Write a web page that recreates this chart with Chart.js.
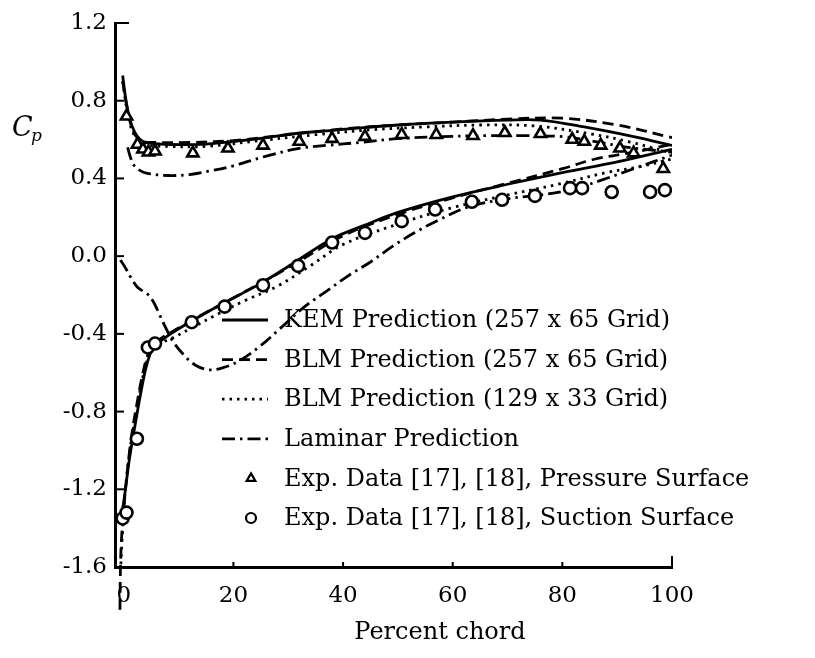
<!DOCTYPE html>
<html>
<head>
<meta charset="utf-8">
<script src="https://cdn.jsdelivr.net/npm/chart.js@4.4.1/dist/chart.umd.min.js"></script>
<style>
  html, body { margin: 0; padding: 0; background: #fff; }
  #wrap { width: 815px; height: 658px; }
</style>
</head>
<body>
<div id="wrap"><canvas id="cp" width="815" height="658"></canvas></div>
<script>
// ── Axis ticks ───────────────────────────────────────────────────────────────
const xTicks = [0, 20, 40, 60, 80, 100];
const yTicks = [1.2, 0.8, 0.4, 0.0, -0.4, -0.8, -1.2, -1.6];

// ── Series: [percent chord, Cp] ─────────────────────────────────────────────
const kemPressure = [[-0.2,0.93],[0.3,0.82],[0.8,0.74],[1.5,0.67],[2.4,0.62],[3.5,0.59],[5,0.58],[8,0.575],[14,0.575],[20,0.59],[26,0.61],[31,0.63],[37,0.645],[43,0.66],[50,0.675],[60,0.69],[70,0.70],[76,0.70],[84,0.665],[93,0.615],[100,0.57]];
const kemSuction = [[-0.7,-1.38],[-0.2,-1.3],[0.3,-1.2],[1,-1.05],[2,-0.88],[3,-0.72],[4,-0.58],[5,-0.49],[6,-0.455],[8,-0.41],[12,-0.34],[18,-0.245],[25,-0.14],[31,-0.035],[38,0.09],[44,0.16],[50,0.225],[60,0.305],[70,0.37],[80,0.43],[90,0.485],[100,0.55]];

const blmPressure = [[-0.2,0.9],[0.5,0.78],[1.5,0.66],[3,0.595],[6,0.585],[12,0.585],[20,0.595],[30,0.625],[40,0.655],[50,0.675],[60,0.69],[70,0.705],[80,0.71],[90,0.675],[100,0.61]];
const blmSuction = [[-0.7,-1.82],[-0.6,-1.6],[-0.4,-1.45],[0,-1.3],[0.6,-1.12],[1.4,-0.93],[2.4,-0.76],[3.5,-0.6],[4.5,-0.5],[6,-0.44],[10,-0.37],[15,-0.29],[20,-0.215],[30,-0.06],[40,0.105],[50,0.215],[60,0.3],[70,0.375],[80,0.45],[86,0.5],[93,0.535],[100,0.575]];

const blm129Pressure = [[-0.2,0.9],[0.8,0.72],[2,0.62],[4,0.575],[8,0.565],[15,0.565],[25,0.595],[35,0.625],[45,0.65],[55,0.665],[65,0.675],[75,0.67],[85,0.63],[92,0.59],[100,0.53]];
const blm129Suction = [[-0.7,-1.7],[-0.3,-1.45],[0.3,-1.2],[1.2,-0.98],[2.4,-0.78],[3.5,-0.62],[4.5,-0.52],[6,-0.46],[9,-0.42],[13,-0.36],[17,-0.3],[22,-0.23],[28,-0.155],[34,-0.05],[40,0.06],[50,0.165],[60,0.25],[70,0.315],[80,0.375],[88,0.43],[94,0.46],[100,0.5]];

const laminarPressure = [[0.7,0.56],[1.2,0.51],[1.8,0.47],[3,0.44],[4.5,0.425],[8,0.415],[12,0.42],[16,0.44],[20,0.465],[26,0.515],[32,0.555],[37,0.57],[43,0.585],[50,0.605],[58,0.615],[66,0.62],[74,0.62],[80,0.615],[86,0.59],[92,0.56],[100,0.535]];
const laminarSuction = [[-0.6,-0.02],[0.5,-0.07],[1.5,-0.12],[2.5,-0.16],[3.5,-0.18],[4.5,-0.2],[5.5,-0.24],[6.5,-0.3],[7.5,-0.36],[9,-0.44],[11,-0.51],[13,-0.56],[15.5,-0.585],[18,-0.575],[21,-0.54],[25,-0.46],[29,-0.36],[33,-0.26],[37,-0.18],[41,-0.1],[45,-0.03],[49,0.05],[53,0.12],[57,0.18],[63,0.255],[70,0.295],[76,0.315],[82,0.345],[87,0.39],[93,0.45],[100,0.52]];

const expPressure = [[0.5,0.72],[2.5,0.575],[3.5,0.55],[4.5,0.535],[5.7,0.54],[12.6,0.53],[19,0.555],[25.4,0.57],[32,0.59],[38,0.605],[44,0.615],[50.7,0.625],[57,0.625],[63.7,0.62],[69.5,0.635],[76,0.63],[81.8,0.60],[84,0.59],[87,0.57],[90.5,0.555],[93,0.53],[98.4,0.45]];
const expSuction = [[-0.2,-1.35],[0.5,-1.32],[2.4,-0.94],[4.4,-0.47],[5.7,-0.45],[12.4,-0.34],[18.4,-0.26],[25.4,-0.15],[31.8,-0.05],[38,0.07],[44,0.12],[50.7,0.18],[56.8,0.24],[63.5,0.28],[69,0.29],[75,0.31],[81.4,0.35],[83.6,0.35],[89,0.33],[96,0.33],[98.7,0.34]];

const legendLabels = [
    'KEM Prediction (257 x 65 Grid)',
    'BLM Prediction (257 x 65 Grid)',
    'BLM Prediction (129 x 33 Grid)',
    'Laminar Prediction',
    'Exp. Data [17], [18], Pressure Surface',
    'Exp. Data [17], [18], Suction Surface'
];

// ── Styles ───────────────────────────────────────────────────────────────────
const INK   = '#000';
const SERIF = '"DejaVu Serif", "Liberation Serif", serif';
const LW    = 2.8;
const DASH  = { kem: [], blm: [11, 6], blm129: [2.5, 5], lam: [13, 5, 2.5, 5] };

function curve(data, dash, extra) {
    return Object.assign({
        data, showLine: true, borderColor: INK, borderWidth: LW,
        borderDash: dash, pointRadius: 0, tension: 0.35, fill: false
    }, extra || {});
}
function marks(data, style, r, extra) {
    return Object.assign({
        data, showLine: false, pointStyle: style, pointRadius: r,
        pointBorderWidth: 2.6, pointBorderColor: INK, pointBackgroundColor: '#fff'
    }, extra || {});
}

// ── Frame, inward ticks, legend, axis titles ────────────────────────────────
const framePlugin = {
    id: 'frame',
    afterDraw(chart) {
        const { ctx, chartArea: a, scales: { x, y } } = chart;
        ctx.save();
        ctx.strokeStyle = INK;
        ctx.lineWidth = 2;
        ctx.setLineDash([]);
        // y ticks point inward
        yTicks.forEach(v => {
            const py = y.getPixelForValue(v);
            const len = v === 1.2 ? 14 : 9;
            ctx.beginPath(); ctx.moveTo(a.left, py); ctx.lineTo(a.left + len, py); ctx.stroke();
        });
        // x ticks point up
        xTicks.slice(1).forEach(v => {
            const px = x.getPixelForValue(v);
            const len = v === 100 ? 11 : 5;
            ctx.beginPath(); ctx.moveTo(px, a.bottom); ctx.lineTo(px, a.bottom - len); ctx.stroke();
        });

        // C_p
        ctx.fillStyle = INK;
        ctx.textBaseline = 'alphabetic';
        ctx.textAlign = 'left';
        ctx.font = 'italic 27px ' + SERIF;
        ctx.fillText('C', 12, 136);
        ctx.font = 'italic 17px ' + SERIF;
        ctx.fillText('p', 31, 141);

        // Percent chord
        ctx.textAlign = 'center';
        ctx.font = '24px ' + SERIF;
        ctx.fillText('Percent chord', 440, 639);

        // legend
        const rowTop = 320, rowGap = 39.6;
        const sx0 = 222, sx1 = 268, tx = 284;
        ctx.textAlign = 'left';
        ctx.textBaseline = 'middle';
        chart.data.datasets.forEach(ds => {
            if (ds.legendRow === undefined) return;
            const ry = rowTop + ds.legendRow * rowGap;
            if (ds.showLine) {
                ctx.lineWidth = LW;
                ctx.setLineDash(ds.borderDash);
                ctx.beginPath(); ctx.moveTo(sx0, ry); ctx.lineTo(sx1, ry); ctx.stroke();
                ctx.setLineDash([]);
            } else {
                ctx.lineWidth = 2.2;
                ctx.fillStyle = '#fff';
                Chart.helpers.drawPoint(ctx, { pointStyle: ds.pointStyle, radius: 5, borderWidth: 2.2, rotation: 0 }, 251, ry);
                ctx.fillStyle = INK;
            }
            ctx.font = '24px ' + SERIF;
            ctx.fillText(legendLabels[ds.legendRow], tx, ry + 1);
        });
        ctx.restore();
    }
};

new Chart(document.getElementById('cp'), {
    type: 'scatter',
    data: {
        datasets: [
            marks(expPressure, 'triangle', 6.5, { legendRow: 4 }),
            marks(expSuction, 'circle', 6, { legendRow: 5 }),
            curve(kemPressure, DASH.kem, { legendRow: 0 }),
            curve(kemSuction, DASH.kem),
            curve(blmPressure, DASH.blm, { legendRow: 1 }),
            curve(blmSuction, DASH.blm, { clip: false }),
            curve(blm129Pressure, DASH.blm129, { legendRow: 2 }),
            curve(blm129Suction, DASH.blm129),
            curve(laminarPressure, DASH.lam, { legendRow: 3 }),
            curve(laminarSuction, DASH.lam)
        ]
    },
    options: {
        responsive: false,
        animation: false,
        devicePixelRatio: 1,
        layout: { padding: { top: 23, right: 143, left: 0, bottom: 0 } },
        plugins: { legend: { display: false }, tooltip: { enabled: false } },
        scales: {
            x: {
                type: 'linear', min: -1.6, max: 100,
                afterBuildTicks: s => { s.ticks = xTicks.map(v => ({ value: v })); },
                afterFit: s => { s.height = 91; },
                grid: { display: false, drawTicks: false },
                border: { display: true, color: INK, width: 3 },
                ticks: { color: INK, font: { family: SERIF, size: 23 }, padding: 15, maxRotation: 0,
                         callback: v => String(v) }
            },
            y: {
                type: 'linear', min: -1.6, max: 1.2,
                afterBuildTicks: s => { s.ticks = yTicks.map(v => ({ value: v })); },
                afterFit: s => { s.width = 115; },
                grid: { display: false, drawTicks: false },
                border: { display: true, color: INK, width: 3 },
                ticks: { color: INK, font: { family: SERIF, size: 23 }, padding: 8,
                         callback: v => v.toFixed(1) }
            }
        }
    },
    plugins: [framePlugin]
});
</script>
</body>
</html>
